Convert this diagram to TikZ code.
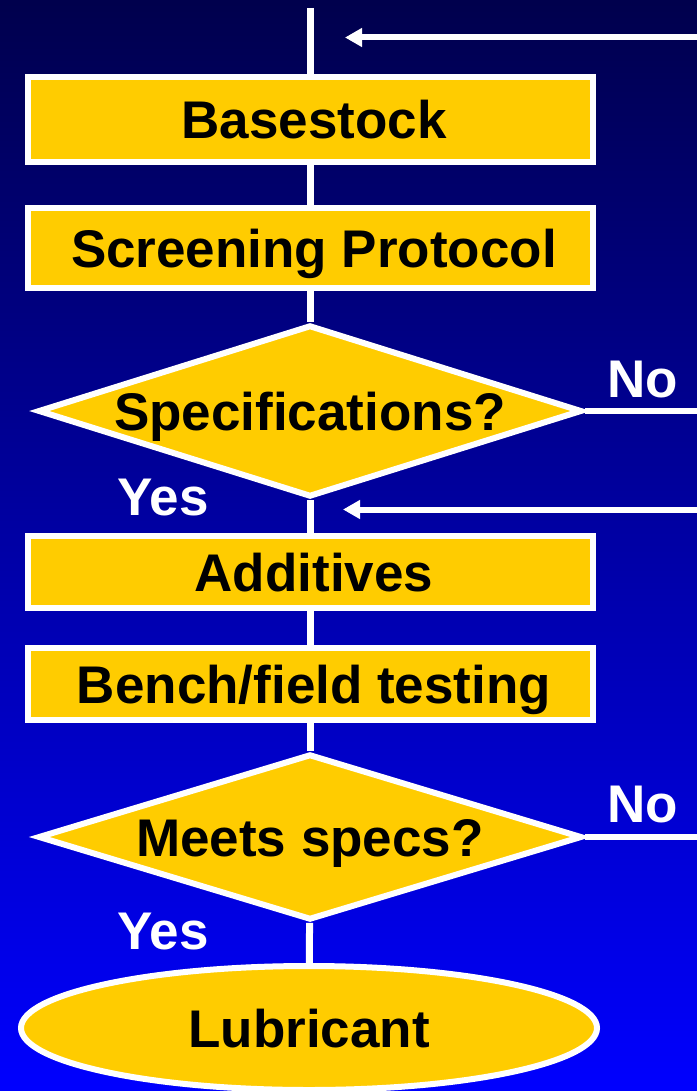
\documentclass[tikz,border=0pt]{standalone}
\usepackage{fontspec}
\setmainfont{Liberation Sans}
\usetikzlibrary{shapes.geometric,arrows.meta}
\definecolor{boxyellow}{HTML}{FFCC00}
\definecolor{bgtop}{HTML}{00004C}
\definecolor{bgbottom}{HTML}{0000FF}
\tikzset{
  bigtext/.style={font=\fontsize{53}{60}\selectfont\bfseries,text height=38pt,text depth=0pt,inner sep=0pt},
  stepbox/.style={bigtext,draw=white,line width=6pt,fill=boxyellow,text=black,minimum width=565pt,execute at begin node=\hspace*{8pt}},
  question/.style={bigtext,diamond,draw=white,line width=6pt,fill=boxyellow,text=black,shape aspect=3.16,minimum width=544pt},
  result/.style={bigtext,ellipse,draw=white,line width=6pt,fill=boxyellow,text=black,minimum width=576pt,minimum height=124pt},
  answer/.style={bigtext,text=white},
  flow/.style={draw=white,line width=7pt},
  loopline/.style={draw=white,line width=6pt},
}
\begin{document}
\begin{tikzpicture}[x=1pt,y=-1pt]
  \useasboundingbox (0,0) rectangle (696,1091);
  \shade[top color=bgtop,bottom color=bgbottom] (-4,-4) rectangle (700,1095);

  % 流程框
  \node[stepbox,minimum height=85pt] (base) at (310,119.5) {Basestock};
  \node[stepbox,minimum height=80pt] (screen) at (310,248) {Screening Protocol};
  \node[question,minimum height=172pt] (spec) at (310,411) {Specifications?};
  \node[stepbox,minimum height=72pt] (add) at (310,572) {Additives};
  \node[stepbox,minimum height=72pt] (bench) at (310,684) {Bench/field testing};
  \node[question,minimum height=166pt] (meets) at (310,837) {Meets specs?};
  \node[result] (lub) at (309,1028) {Lubricant};

  % 判断分支标注
  \node[answer] (no1) at (643,378) {No};
  \node[answer] (yes1) at (163,496) {Yes};
  \node[answer] (no2) at (643,803) {No};
  \node[answer] (yes2) at (163,930) {Yes};

  % 主干连线
  \coordinate (start) at (310,8);
  \draw[flow] (start) -- (base.north);
  \draw[flow] (base) -- (screen);
  \draw[flow] (screen) -- (spec);
  \draw[flow] (spec) -- (add);
  \draw[flow] (add) -- (bench);
  \draw[flow] (bench) -- (meets);
  \draw[flow] (meets) -- (lub);

  % 右侧回路（出图）
  \coordinate (out1) at (700,411);
  \coordinate (out2) at (700,837);
  \draw[loopline] (spec.east) -- (out1);
  \draw[loopline] (meets.east) -- (out2);

  % 返回箭头
  \coordinate (back1) at (700,37.5);
  \coordinate (tip1) at (345,37.5);
  \coordinate (back2) at (700,509.5);
  \coordinate (tip2) at (343,509.5);
  \draw[loopline,-{Triangle[length=17pt,width=18pt]}] (back1) -- (tip1);
  \draw[loopline,-{Triangle[length=17pt,width=18pt]}] (back2) -- (tip2);
\end{tikzpicture}
\end{document}
